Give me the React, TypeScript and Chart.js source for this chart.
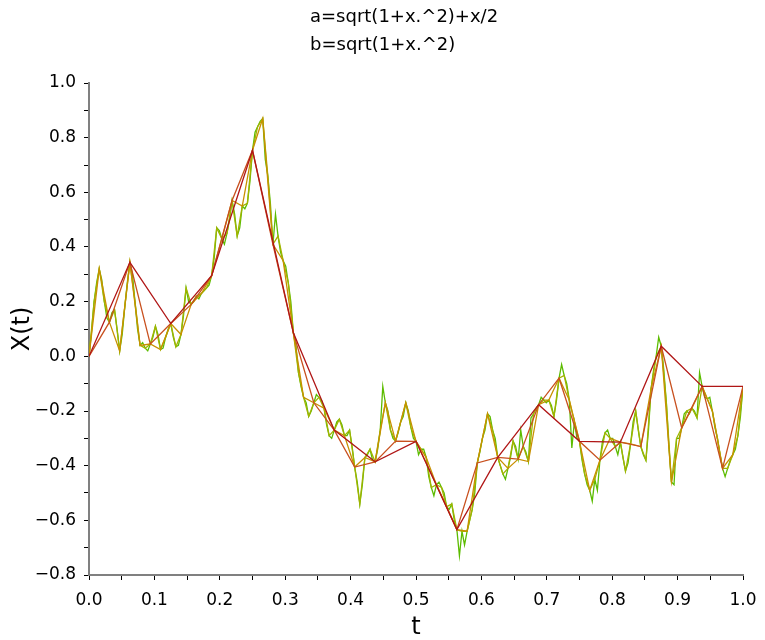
import React, { useEffect, useRef } from 'react';
import { Chart, registerables } from 'chart.js';

Chart.register(...registerables);

const titleLines = ['a=sqrt(1+x.^2)+x/2', 'b=sqrt(1+x.^2)'];
const xAxisTitle = 't';
const yAxisTitle = 'X(t)';

// Path values at t = k/16
const level16 = [0, 0.344, 0.12, 0.295, 0.754, 0.086, -0.27, -0.386, -0.311, -0.634, -0.37, -0.177, -0.311, -0.314, 0.037, -0.11, -0.11];
// New values at odd multiples of 1/32
const mid32 = [0.125, 0.045, 0.19, 0.57, 0.41, -0.17, -0.405, -0.31, -0.47, -0.39, -0.376, -0.08, -0.38, -0.33, -0.262, -0.41];
// New values at odd multiples of 1/64
const mid64 = [0.32, 0.02, 0.04, 0.025, 0.08, 0.23, 0.43, 0.55, 0.87, 0.35, -0.15, -0.19, -0.29, -0.37, -0.17, -0.17,
  -0.37, -0.55, -0.64, -0.21, -0.41, -0.385, -0.16, -0.16, -0.49, -0.3, -0.32, -0.12, -0.46, -0.19, -0.2, -0.36];
// New values at odd multiples of 1/128
const mid128 = [0.2, 0.2, 0.17, 0.18, 0.2, 0.03, 0.11, 0.07, 0.035, 0.25, 0.22, 0.25, 0.47, 0.45, 0.44, 0.56,
  0.84, 0.66, 0.44, 0.27, -0.06, -0.22, -0.15, -0.29, -0.23, -0.27, -0.54, -0.34, -0.27, -0.27, -0.24, -0.26,
  -0.34, -0.48, -0.48, -0.54, -0.64, -0.56, -0.3, -0.27, -0.43, -0.31, -0.33, -0.21, -0.16, -0.22, -0.07, -0.24,
  -0.43, -0.45, -0.28, -0.33, -0.42, -0.2, -0.38, 0.0, -0.17, -0.3, -0.2, -0.225, -0.155, -0.3, -0.41, -0.29];
// New values at odd multiples of 1/256
const mid256 = [0.09, 0.27, 0.28, 0.14, 0.16, 0.1, 0.08, 0.27, 0.3, 0.1, 0.05, 0.02, 0.07, 0.08, 0.03, 0.1,
  0.07, 0.04, 0.15, 0.2, 0.2, 0.21, 0.24, 0.26, 0.36, 0.46, 0.41, 0.5, 0.52, 0.47, 0.54, 0.64,
  0.82, 0.86, 0.72, 0.56, 0.52, 0.38, 0.33, 0.2, 0.04, -0.11, -0.17, -0.2, -0.14, -0.16, -0.25, -0.3,
  -0.24, -0.25, -0.29, -0.33, -0.46, -0.47, -0.36, -0.38, -0.34, -0.11, -0.2, -0.3, -0.28, -0.22, -0.2, -0.3,
  -0.36, -0.34, -0.44, -0.51, -0.46, -0.5, -0.56, -0.6, -0.73, -0.69, -0.6, -0.5, -0.35, -0.27, -0.22, -0.3,
  -0.4, -0.45, -0.37, -0.33, -0.27, -0.35, -0.225, -0.19, -0.15, -0.17, -0.18, -0.16, -0.03, -0.1, -0.335, -0.3,
  -0.38, -0.47, -0.53, -0.49, -0.31, -0.27, -0.3, -0.36, -0.37, -0.39, -0.24, -0.27, -0.36, -0.27, -0.05, 0.07,
  -0.05, -0.33, -0.47, -0.3, -0.21, -0.21, -0.2, -0.06, -0.15, -0.15, -0.26, -0.36, -0.44, -0.38, -0.34, -0.22];

const levelNames = ['16 steps', '32 steps', '64 steps', '128 steps', '256 steps'];
const levelColors = ['#b01616', '#c8501e', '#c89000', '#a2b400', '#5cbc00'];

const xTickStep = 0.05;
const yTickStep = 0.1;

function refine(coarse: number[], mids: number[]): number[] {
  const out: number[] = [];
  for (let i = 0; i < mids.length; i++) {
    out.push(coarse[i], mids[i]);
  }
  out.push(coarse[coarse.length - 1]);
  return out;
}

const path16 = level16;
const path32 = refine(path16, mid32);
const path64 = refine(path32, mid64);
const path128 = refine(path64, mid128);
const path256 = refine(path128, mid256);
const paths = [path16, path32, path64, path128, path256];

function toPoints(p: number[]) {
  const n = p.length - 1;
  return p.map((y, i) => ({ x: i / n, y }));
}

const FONT = "'DejaVu Sans', 'Liberation Sans', sans-serif";

const titlePlugin = {
  id: 'leftTitle',
  afterDraw(chart: any) {
    const ctx = chart.ctx;
    ctx.save();
    ctx.fillStyle = '#000';
    ctx.font = `18px ${FONT}`;
    ctx.textAlign = 'left';
    ctx.textBaseline = 'middle';
    ctx.fillText(titleLines[0], 310, 17);
    ctx.fillText(titleLines[1], 310, 45);
    ctx.restore();
  },
};

function fmt(v: number) {
  const s = Math.abs(v).toFixed(1);
  return v < -1e-9 ? '\u2212' + s : s;
}

export default function App() {
  const ref = useRef<HTMLCanvasElement>(null);
  useEffect(() => {
    if (!ref.current) return;
    const chart = new Chart(ref.current, {
      type: 'line',
      data: {
        datasets: paths.map((p, i) => ({
          label: levelNames[i],
          data: toPoints(p),
          borderColor: levelColors[i],
          backgroundColor: levelColors[i],
          borderWidth: 1.3,
          pointRadius: 0,
          tension: 0,
          fill: false,
        })),
      },
      options: {
        animation: false,
        responsive: true,
        maintainAspectRatio: false,
        layout: { padding: { top: 83, right: 22, left: 0, bottom: 0 } },
        plugins: {
          legend: { display: false },
          title: { display: false },
          tooltip: { enabled: false },
        },
        scales: {
          x: {
            type: 'linear',
            min: 0,
            max: 1,
            afterFit: (s: any) => { s.height = 65; s.paddingRight = 0; },
            ticks: {
              stepSize: xTickStep,
              autoSkip: false,
              maxRotation: 0,
              padding: 10,
              color: '#000',
              font: { family: FONT, size: 17 },
              callback: (v: any) => {
                const n = Number(v) * 10;
                return Math.abs(n - Math.round(n)) < 1e-6 ? Number(v).toFixed(1) : '';
              },
            },
            grid: { drawOnChartArea: false, tickLength: 5, tickColor: '#000', tickWidth: 1 },
            border: { display: true, color: '#808080', width: 2 },
            title: { display: true, text: xAxisTitle, color: '#000', font: { family: FONT, size: 24 }, padding: { top: 0, bottom: -2 } },
          },
          y: {
            type: 'linear',
            min: -0.8,
            max: 1.0,
            afterFit: (s: any) => { s.width = 89; },
            ticks: {
              stepSize: yTickStep,
              autoSkip: false,
              padding: 8,
              color: '#000',
              font: { family: FONT, size: 17 },
              callback: (v: any) => {
                const n = Math.round(Number(v) * 10);
                return Math.abs(Number(v) * 10 - n) < 1e-6 && n % 2 === 0 ? fmt(Number(v)) : '';
              },
            },
            grid: { drawOnChartArea: false, tickLength: 5, tickColor: '#000', tickWidth: 1 },
            border: { display: true, color: '#808080', width: 2 },
            title: { display: true, text: yAxisTitle, color: '#000', font: { family: FONT, size: 24 }, padding: { top: 8, bottom: 0 } },
          },
        },
      },
      plugins: [titlePlugin],
    });
    return () => chart.destroy();
  }, []);
  return (
    <div style={{ position: 'fixed', left: 0, top: 0, width: 765, height: 640, background: '#fff' }}>
      <canvas ref={ref} />
    </div>
  );
}
